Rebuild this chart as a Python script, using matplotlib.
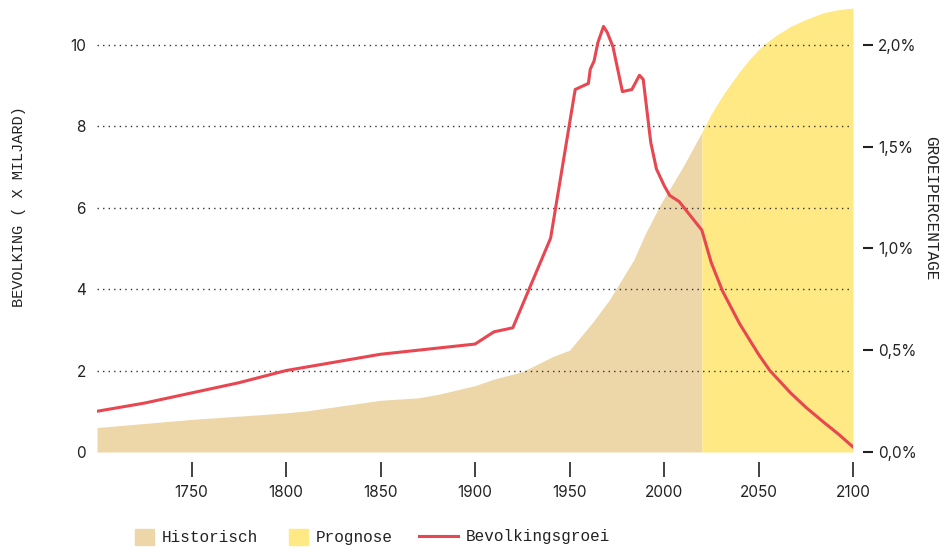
import numpy as np
import matplotlib.pyplot as plt
from matplotlib.patches import Patch
from matplotlib.lines import Line2D

# wereldbevolking (miljard)
hist_years = [1700, 1750, 1800, 1811, 1850, 1870, 1881, 1900, 1910, 1925,
              1941, 1950, 1962, 1971, 1984, 1990, 1998, 2010, 2020]
hist_pop = [0.60, 0.80, 0.96, 1.01, 1.27, 1.33, 1.42, 1.63, 1.79, 1.97,
            2.34, 2.50, 3.17, 3.73, 4.72, 5.35, 6.07, 7.00, 7.85]

prog_years = [2020, 2025, 2030, 2035, 2040, 2045, 2050, 2055, 2060, 2067,
              2075, 2084, 2092, 2100]
prog_pop = [7.85, 8.30, 8.68, 9.02, 9.34, 9.63, 9.88, 10.08, 10.25, 10.45,
            10.62, 10.78, 10.86, 10.90]

# groeipercentage (%)
groei_years = [1700, 1725, 1750, 1775, 1800, 1825, 1850, 1875, 1900, 1910,
               1920, 1940, 1953, 1960, 1961, 1963, 1965, 1968, 1970, 1973,
               1978, 1983, 1987, 1989, 1993, 1996, 2000, 2003, 2008, 2014,
               2020, 2025, 2031, 2040, 2050, 2056, 2067, 2075, 2084, 2092,
               2100]
groei = [0.20, 0.24, 0.29, 0.34, 0.40, 0.44, 0.48, 0.505, 0.53, 0.59,
         0.61, 1.05, 1.78, 1.81, 1.88, 1.92, 2.01, 2.09, 2.06, 1.99,
         1.77, 1.78, 1.85, 1.83, 1.52, 1.39, 1.31, 1.26, 1.23, 1.16,
         1.09, 0.93, 0.79, 0.63, 0.48, 0.40, 0.29, 0.22, 0.15, 0.09,
         0.025]

c_hist = '#edd7a8'
c_prog = '#ffe984'
c_red = '#e84650'
mono = ['Liberation Mono', 'DejaVu Sans Mono']
sans = ['Inter', 'DejaVu Sans']

fig = plt.figure(figsize=(9.46, 5.49), dpi=100)
ax = fig.add_axes([97/946, 1-452/549, (853-97)/946, 448/549])
ax2 = ax.twinx()

ax.fill_between(hist_years, hist_pop, color=c_hist, lw=0, zorder=1)
ax.fill_between(prog_years, prog_pop, color=c_prog, lw=0, zorder=1)
ax2.plot(groei_years, groei, color=c_red, lw=2.2, solid_joinstyle='round')

ax.set_xlim(1700, 2100)
ax.set_ylim(0, 11)
ax2.set_ylim(0, 2.2)

ax.set_xticks([1750, 1800, 1850, 1900, 1950, 2000, 2050, 2100])
ax.set_yticks([0, 2, 4, 6, 8, 10])
ax2.set_yticks([0, 0.5, 1.0, 1.5, 2.0])
ax2.set_yticklabels(['0,0%', '0,5%', '1,0%', '1,5%', '2,0%'])

for a in (ax, ax2):
    for s in a.spines.values():
        s.set_visible(False)

ax.spines['bottom'].set_position(('outward', 7))
ax.tick_params(axis='x', length=11, width=1.2, color='#222222', pad=6,
               labelsize=11, labelcolor='#222222')
ax.tick_params(axis='y', length=0, pad=8, labelsize=11, labelcolor='#222222')
ax2.spines['right'].set_position(('outward', 7))
ax2.tick_params(axis='y', length=7, width=1.5, color='#222222', pad=4,
                labelsize=11, labelcolor='#222222')
for lab in ax.get_xticklabels() + ax.get_yticklabels() + ax2.get_yticklabels():
    lab.set_family(sans)

# dotted grid op de hoofd-as
for v in [2, 4, 6, 8, 10]:
    ax.axhline(v, color='#333333', lw=1, ls=(0, (1, 3)), zorder=2)

ax.set_ylabel('BEVOLKING ( X MILJARD)', family=mono, fontsize=11,
              color='#222222', labelpad=0)
ax.yaxis.set_label_coords(-71/756, (452-207)/448)
ax2.set_ylabel('GROEIPERCENTAGE', family=mono, fontsize=11.5, color='#222222',
               rotation=-90, labelpad=0)
ax2.yaxis.set_label_coords(1 + 85/756, (452-208)/448)

# legenda: twee delen zodat vlakjes vierkant blijven
leg_kw = dict(frameon=False, prop={'family': mono, 'size': 11.5},
              labelcolor='#222222', handletextpad=0.5, borderpad=0.4,
              borderaxespad=0.5, loc='center left')
fs = 11.5 * 100 / 72
leg1 = fig.legend([Patch(color=c_hist), Patch(color=c_prog)],
                  ['Historisch', 'Prognose'], ncol=2,
                  handlelength=1.2, handleheight=1.2, columnspacing=1.9,
                  bbox_to_anchor=((135 - 0.9*fs)/946, 1-537/549), **leg_kw)
leg2 = fig.legend([Line2D([], [], color=c_red, lw=2.2)], ['Bevolkingsgroei'],
                  handlelength=2.45,
                  bbox_to_anchor=((419 - 0.9*fs)/946, 1-537/549), **leg_kw)

fig.savefig('out.png', dpi=100)
